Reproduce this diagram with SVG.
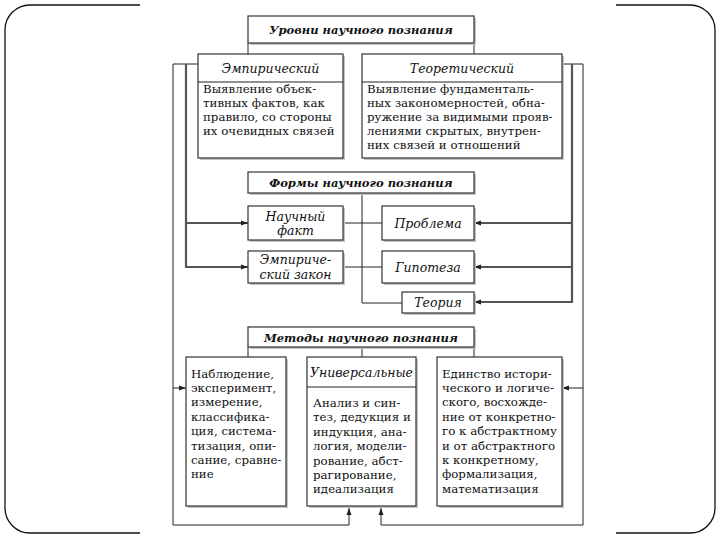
<svg xmlns="http://www.w3.org/2000/svg" width="720" height="540" viewBox="0 0 720 540">
<defs>
<style>
.frame{fill:none;stroke:#111;stroke-width:1.3}
.box{fill:#fff;stroke:#333;stroke-width:1.2}
.sh{fill:#c4c4c4}
.ln{fill:none;stroke:#222;stroke-width:1}
.tk{fill:none;stroke:#555;stroke-width:2.2}
.ti{font-family:"DejaVu Serif","Liberation Serif",serif;font-size:11.5px;font-weight:bold;font-style:italic;text-anchor:middle;fill:#111}
.hd{font-family:"DejaVu Serif","Liberation Serif",serif;font-size:12.5px;font-style:italic;text-anchor:middle;fill:#111}
.bd{font-family:"DejaVu Serif","Liberation Serif",serif;font-size:11.8px;fill:#111}
</style>
<marker id="ar" markerWidth="7" markerHeight="6" refX="7" refY="3" orient="auto" markerUnits="userSpaceOnUse">
<path d="M0,0.5 L7,3 L0,5.5 z" fill="#222"/>
</marker>
</defs>
<rect width="720" height="540" fill="#fff"/>
<g id="frame">
<path class="frame" d="M140,5 H30 A25,25 0 0 0 5,30 V508 A25,25 0 0 0 30,533 H140"/>
<path class="frame" d="M616,5 H690 A25,25 0 0 1 715,30 V508 A25,25 0 0 1 690,533 H616"/>
</g>
<g id="connectors">
<path class="ln" d="M248,43 V54 M474,43 V54"/>
<path class="ln" d="M198,64 H173 V525 H349 V508" marker-end="url(#ar)"/>
<path class="ln" d="M173,388 H186" marker-end="url(#ar)"/>
<path class="tk" d="M186,64 V267 H248" marker-end="url(#ar)"/>
<path class="tk" d="M186,223 H248" marker-end="url(#ar)"/>
<path class="ln" d="M562,64 H583 V525 H381 V508" marker-end="url(#ar)"/>
<path class="ln" d="M583,388 H562" marker-end="url(#ar)"/>
<path class="tk" d="M572,64 V302 H474" marker-end="url(#ar)"/>
<path class="tk" d="M572,223 H474" marker-end="url(#ar)"/>
<path class="tk" d="M572,267 H474" marker-end="url(#ar)"/>
<path class="ln" d="M362,193 V303 H402"/>
<path class="ln" d="M343,223 H382 M343,267 H382"/>
<path class="ln" d="M248,347 V357 M362,347 V357 M474,347 V357"/>
</g>
<g id="levels">
<rect class="sh" x="250" y="18" width="226" height="27"/>
<rect class="box" x="248" y="16" width="226" height="27"/>
<text class="ti" x="361" y="34">Уровни научного познания</text>
</g>
<g id="empirical">
<rect class="sh" x="200" y="56" width="145" height="104"/>
<rect class="box" x="198" y="54" width="145" height="104"/>
<line class="ln" x1="198" y1="82" x2="343" y2="82"/>
<text class="hd" x="270.5" y="72.5">Эмпирический</text>
<text class="bd" x="203" y="93">Выявление объек-</text>
<text class="bd" x="203" y="107">тивных фактов, как</text>
<text class="bd" x="203" y="121">правило, со стороны</text>
<text class="bd" x="203" y="135">их очевидных связей</text>
</g>
<g id="theoretical">
<rect class="sh" x="364" y="56" width="200" height="104"/>
<rect class="box" x="362" y="54" width="200" height="104"/>
<line class="ln" x1="362" y1="82" x2="562" y2="82"/>
<text class="hd" x="462" y="72.5">Теоретический</text>
<text class="bd" x="367" y="93">Выявление фундаменталь-</text>
<text class="bd" x="367" y="107">ных закономерностей, обна-</text>
<text class="bd" x="367" y="121">ружение за видимыми прояв-</text>
<text class="bd" x="367" y="135">лениями скрытых, внутрен-</text>
<text class="bd" x="367" y="149">них связей и отношений</text>
</g>
<g id="forms">
<rect class="sh" x="250" y="174" width="226" height="21"/>
<rect class="box" x="248" y="172" width="226" height="21"/>
<text class="ti" x="361" y="187">Формы научного познания</text>
</g>
<g id="fact">
<rect class="sh" x="250" y="208" width="95" height="34"/>
<rect class="box" x="248" y="206" width="95" height="34"/>
<text class="hd" x="295.5" y="220.5">Научный</text>
<text class="hd" x="295.5" y="234.5">факт</text>
</g>
<g id="law">
<rect class="sh" x="250" y="253" width="95" height="32"/>
<rect class="box" x="248" y="251" width="95" height="32"/>
<text class="hd" x="295.5" y="263.5">Эмпириче-</text>
<text class="hd" x="295.5" y="278.5">ский закон</text>
</g>
<g id="problem">
<rect class="sh" x="384" y="208" width="92" height="34"/>
<rect class="box" x="382" y="206" width="92" height="34"/>
<text class="hd" x="428" y="227.5">Проблема</text>
</g>
<g id="hypothesis">
<rect class="sh" x="384" y="253" width="92" height="32"/>
<rect class="box" x="382" y="251" width="92" height="32"/>
<text class="hd" x="428" y="271.5">Гипотеза</text>
</g>
<g id="theory">
<rect class="sh" x="404" y="294" width="72" height="21"/>
<rect class="box" x="402" y="292" width="72" height="21"/>
<text class="hd" x="438" y="307">Теория</text>
</g>
<g id="methods">
<rect class="sh" x="250" y="329" width="226" height="20"/>
<rect class="box" x="248" y="327" width="226" height="20"/>
<text class="ti" x="361" y="341.5">Методы научного познания</text>
</g>
<g id="observation">
<rect class="sh" x="188" y="359" width="100" height="149"/>
<rect class="box" x="186" y="357" width="100" height="149"/>
<text class="bd" x="191" y="377.5">Наблюдение,</text>
<text class="bd" x="191" y="391.9">эксперимент,</text>
<text class="bd" x="191" y="406.3">измерение,</text>
<text class="bd" x="191" y="420.7">классифика-</text>
<text class="bd" x="191" y="435.1">ция, система-</text>
<text class="bd" x="191" y="449.5">тизация, опи-</text>
<text class="bd" x="191" y="463.9">сание, сравне-</text>
<text class="bd" x="191" y="478.3">ние</text>
</g>
<g id="universal">
<rect class="sh" x="309" y="359" width="109" height="149"/>
<rect class="box" x="307" y="357" width="109" height="149"/>
<line class="ln" x1="307" y1="387" x2="416" y2="387"/>
<text class="hd" x="361.5" y="377">Универсальные</text>
<text class="bd" x="313" y="407">Анализ и син-</text>
<text class="bd" x="313" y="421.4">тез, дедукция и</text>
<text class="bd" x="313" y="435.8">индукция, ана-</text>
<text class="bd" x="313" y="450.2">логия, модели-</text>
<text class="bd" x="313" y="464.6">рование, абст-</text>
<text class="bd" x="313" y="479">рагирование,</text>
<text class="bd" x="313" y="493.4">идеализация</text>
</g>
<g id="unity">
<rect class="sh" x="439" y="359" width="125" height="149"/>
<rect class="box" x="437" y="357" width="125" height="149"/>
<text class="bd" x="442" y="377.5">Единство истори-</text>
<text class="bd" x="442" y="391.9">ческого и логиче-</text>
<text class="bd" x="442" y="406.3">ского, восхожде-</text>
<text class="bd" x="442" y="420.7">ние от конкретно-</text>
<text class="bd" x="442" y="435.1">го к абстрактному</text>
<text class="bd" x="442" y="449.5">и от абстрактного</text>
<text class="bd" x="442" y="463.9">к конкретному,</text>
<text class="bd" x="442" y="478.3">формализация,</text>
<text class="bd" x="442" y="492.7">математизация</text>
</g>
</svg>
